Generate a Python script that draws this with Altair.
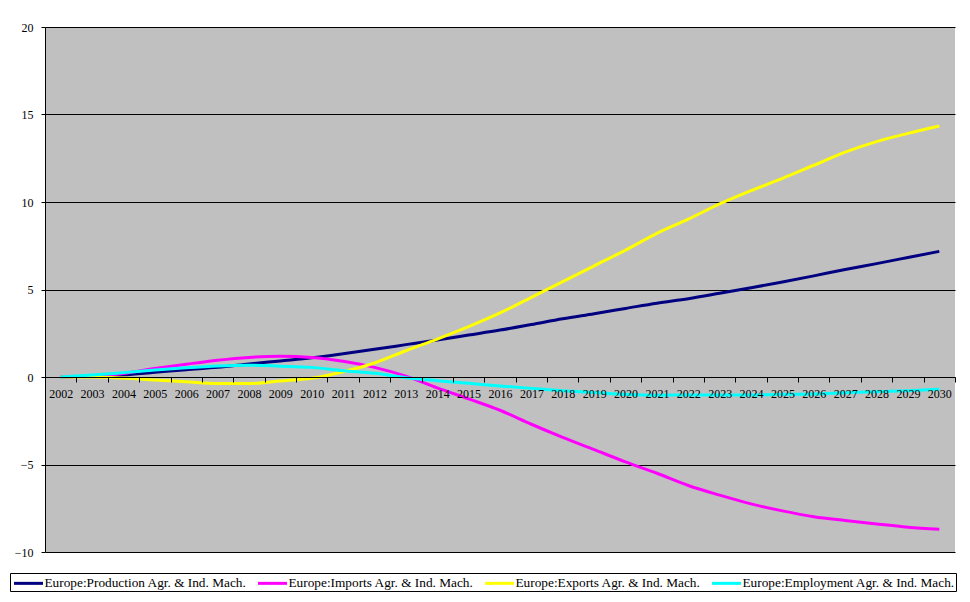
import altair as alt
import pandas as pd

years = [str(y) for y in range(2002, 2031)]

series_names = [
    "Europe:Production Agr. & Ind. Mach.",
    "Europe:Imports Agr. & Ind. Mach.",
    "Europe:Exports Agr. & Ind. Mach.",
    "Europe:Employment Agr. & Ind. Mach.",
]
series_colors = ["#000080", "#FF00FF", "#FFFF00", "#00FFFF"]

production = [0.0, 0.05, 0.12, 0.27, 0.42, 0.55, 0.74, 0.92, 1.1, 1.33, 1.58, 1.85, 2.12, 2.4,
              2.68, 3.0, 3.33, 3.62, 3.92, 4.22, 4.47, 4.78, 5.1, 5.43, 5.78, 6.14, 6.48, 6.83, 7.18]
imports = [0.0, 0.06, 0.2, 0.48, 0.73, 0.96, 1.12, 1.18, 1.12, 0.9, 0.55, 0.05, -0.62, -1.25,
           -1.9, -2.7, -3.45, -4.15, -4.85, -5.5, -6.2, -6.75, -7.25, -7.65, -7.98, -8.2, -8.4, -8.58, -8.7]
exports = [0.0, 0.0, -0.06, -0.17, -0.27, -0.37, -0.37, -0.23, -0.07, 0.3, 0.8, 1.5, 2.17, 2.88,
           3.66, 4.55, 5.45, 6.35, 7.25, 8.21, 9.02, 9.89, 10.65, 11.35, 12.1, 12.85, 13.45, 13.92, 14.34]
employment = [0.0, 0.11, 0.25, 0.4, 0.53, 0.63, 0.67, 0.62, 0.55, 0.36, 0.21, -0.04, -0.21, -0.36,
              -0.51, -0.65, -0.78, -0.88, -0.99, -1.04, -1.03, -1.03, -1.03, -0.99, -0.97, -0.9, -0.84, -0.78, -0.7]

y_ticks = [-10, -5, 0, 5, 10, 15, 20]

rows = []
for name, vals in zip(series_names, [production, imports, exports, employment]):
    for yr, v in zip(years, vals):
        rows.append({"year": yr, "series": name, "value": v})
df = pd.DataFrame(rows)

W, H = 910, 525
FONT = "Liberation Serif"

chart = alt.Chart(df).mark_line(strokeWidth=3, interpolate="monotone").encode(
    x=alt.X(
        "year:O",
        sort=years,
        bandPosition=0.5,
        scale=alt.Scale(type="band", paddingInner=0, paddingOuter=0),
        axis=alt.Axis(
            title=None, orient="bottom", offset=-H * 10 / 30, labelAngle=0,
            tickBand="extent", grid=False, domainColor="black", domainWidth=1,
            tickColor="black", tickSize=5, labelFont=FONT, labelFontSize=12,
            labelColor="black", labelPadding=6, zindex=1,
        ),
    ),
    y=alt.Y(
        "value:Q",
        scale=alt.Scale(domain=[-10, 20], nice=False, zero=False),
        axis=alt.Axis(
            title=None, values=y_ticks, grid=True, gridColor="black", gridOpacity=1,
            gridWidth=1, domainColor="black", tickColor="black", tickSize=4,
            labelFont=FONT, labelFontSize=12, labelColor="black", labelPadding=8,
        ),
    ),
    color=alt.Color(
        "series:N",
        sort=series_names,
        scale=alt.Scale(domain=series_names, range=series_colors),
        legend=alt.Legend(
            title=None, orient="none", legendX=-35, legendY=546, direction="horizontal",
            symbolType="M-2,0H2", symbolSize=210.25, symbolStrokeWidth=3,
            symbolOffset=8.5, labelOffset=7, labelFont=FONT, labelFontSize=13.3,
            labelColor="black", strokeColor="black", fillColor="white", padding=1,
            columnPadding=5, labelLimit=400, cornerRadius=0,
        ),
    ),
).properties(
    width=W,
    height=H,
    autosize=alt.AutoSizeParams(type="none"),
    padding={"left": 37, "top": 19, "right": 7, "bottom": 42},
).configure_view(fill="#C0C0C0", strokeWidth=0)

chart.save("out.html", embed_options={"renderer": "svg", "actions": False})
